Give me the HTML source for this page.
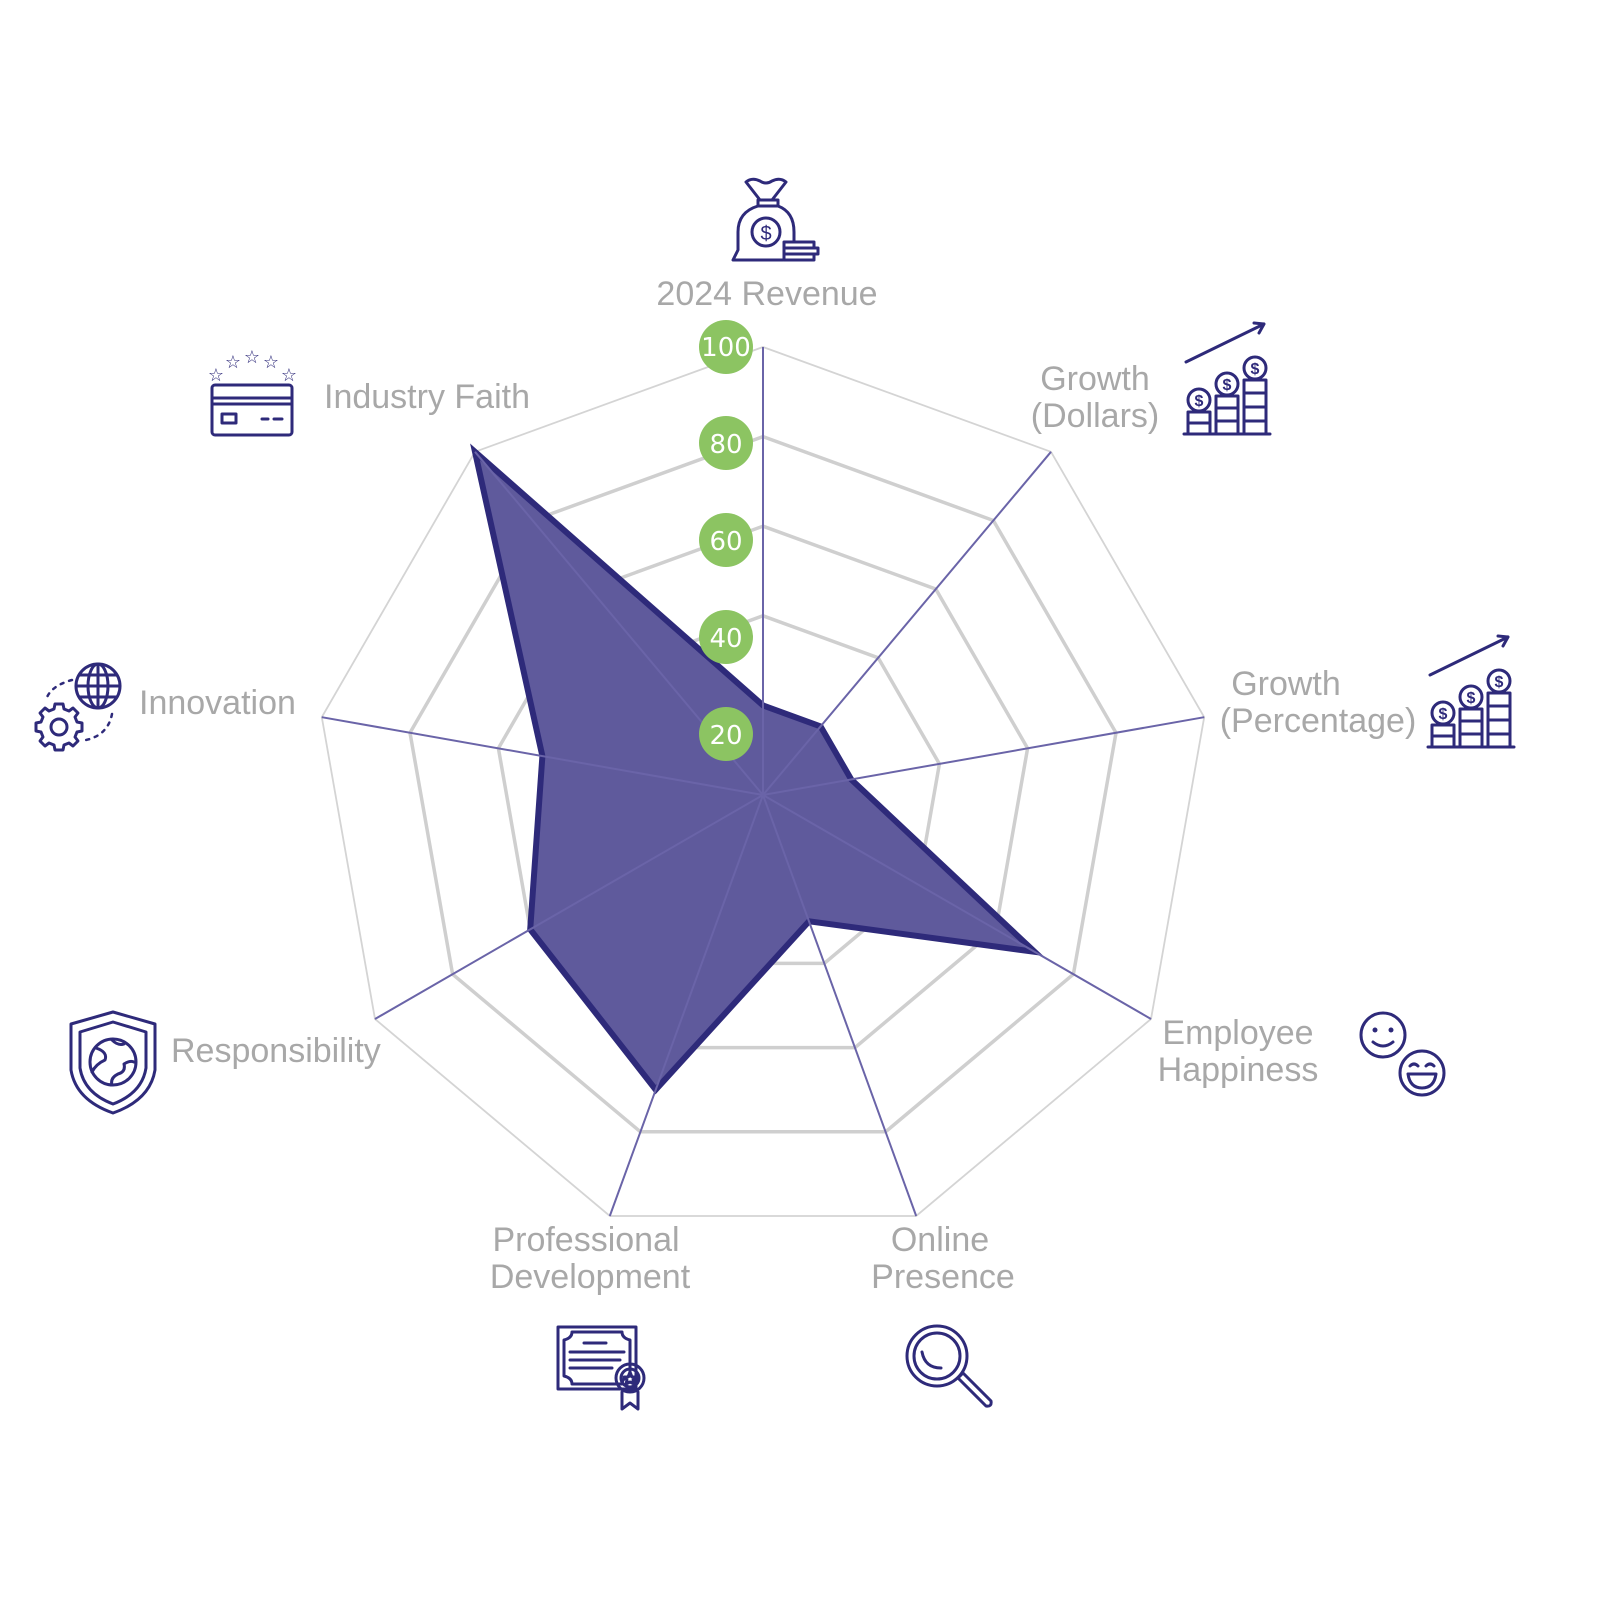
<!DOCTYPE html>
<html><head><meta charset="utf-8"><style>
html,body{margin:0;padding:0;background:#fff;overflow:hidden;}
svg{display:block;}
.lbl{font-family:"Liberation Sans",sans-serif;font-size:34px;fill:#a8a8a8;}
.ic{fill:none;stroke:#2e2a7a;stroke-width:3;stroke-linejoin:round;stroke-linecap:round;}
.num{font-family:"DejaVu Sans","Liberation Sans",sans-serif;font-size:26px;fill:#fff;text-anchor:middle;}
</style></head><body>
<svg width="1600" height="1600" viewBox="0 0 1600 1600" xmlns="http://www.w3.org/2000/svg">
<defs>
<g id="coins">
  <path class="ic" d="M0,-72 L78,-110 M78,-110 L68,-111 M78,-110 L73,-101"/>
  <line class="ic" x1="-2" y1="0" x2="84" y2="0"/>
  <rect class="ic" x="2" y="-22" width="22" height="22"/><line class="ic" x1="2" y1="-11" x2="24" y2="-11"/>
  <circle class="ic" cx="13" cy="-34" r="11"/>
  <rect class="ic" x="30" y="-38" width="22" height="38"/><line class="ic" x1="30" y1="-26" x2="52" y2="-26"/><line class="ic" x1="30" y1="-13" x2="52" y2="-13"/>
  <circle class="ic" cx="41" cy="-50" r="11"/>
  <rect class="ic" x="58" y="-54" width="22" height="54"/><line class="ic" x1="58" y1="-41" x2="80" y2="-41"/><line class="ic" x1="58" y1="-27" x2="80" y2="-27"/><line class="ic" x1="58" y1="-13" x2="80" y2="-13"/>
  <circle class="ic" cx="69" cy="-66" r="11"/>
  <text x="13" y="-28" font-family="Liberation Sans" font-size="16" font-weight="bold" fill="#2e2a7a" text-anchor="middle">$</text>
  <text x="41" y="-44" font-family="Liberation Sans" font-size="16" font-weight="bold" fill="#2e2a7a" text-anchor="middle">$</text>
  <text x="69" y="-60" font-family="Liberation Sans" font-size="16" font-weight="bold" fill="#2e2a7a" text-anchor="middle">$</text>
</g>
</defs>
<!-- rings -->
<g fill="none" stroke="#cfcfcf" stroke-width="3.5">
  <polygon points="763,436.6 993.4,520.5 1116,732.8 1073.4,974.2 885.6,1131.8 640.4,1131.8 452.6,974.2 410,732.8 532.6,520.5"/>
  <polygon points="763,526.2 935.8,589.1 1027.6,748.3 995.8,929.4 855,1047.6 671,1047.6 530.2,929.4 498.4,748.3 590.2,589.1"/>
  <polygon points="763,615.8 878.2,657.8 939.4,763.9 918.2,884.6 824.3,963.4 701.7,963.4 607.8,884.6 586.6,763.9 647.8,657.8"/>
  <polygon points="763,705.4 820.6,726.4 851.2,779.4 840.6,839.8 793.6,879.2 732.4,879.2 685.4,839.8 674.8,779.4 705.4,726.4"/>
</g>
<polygon points="763,347 1051,451.8 1204.2,717.2 1151,1019 916.2,1216 609.8,1216 375,1019 321.8,717.2 475,451.8" fill="none" stroke="#d4d4d4" stroke-width="1.8"/>
<!-- data -->
<polygon points="763,705.4 820.6,726.4 851.2,779.4 1034.6,951.8 809,921.3 655.7,1089.7 530.2,929.4 542.4,756.1 475,451.8" fill="#5f5a9c" stroke="#2e2a7a" stroke-width="6" stroke-linejoin="miter"/>
<!-- axes -->
<g stroke="#6a64a8" stroke-width="2">
  <line x1="763" y1="795" x2="763" y2="347"/>
  <line x1="763" y1="795" x2="1051" y2="451.8"/>
  <line x1="763" y1="795" x2="1204.2" y2="717.2"/>
  <line x1="763" y1="795" x2="1151" y2="1019"/>
  <line x1="763" y1="795" x2="916.2" y2="1216"/>
  <line x1="763" y1="795" x2="609.8" y2="1216"/>
  <line x1="763" y1="795" x2="375" y2="1019"/>
  <line x1="763" y1="795" x2="321.8" y2="717.2"/>
  <line x1="763" y1="795" x2="475" y2="451.8"/>
</g>
<!-- scale badges -->
<g fill="#8cc462">
  <circle cx="726" cy="347" r="27"/><circle cx="726" cy="443" r="27"/><circle cx="726" cy="540" r="27"/><circle cx="726" cy="637" r="27"/><circle cx="726" cy="734" r="27"/>
</g>
<text class="num" x="726" y="356" font-size="23">100</text>
<text class="num" x="726" y="453">80</text>
<text class="num" x="726" y="550">60</text>
<text class="num" x="726" y="647">40</text>
<text class="num" x="726" y="744">20</text>
<!-- labels -->
<text class="lbl" x="767" y="305" text-anchor="middle">2024 Revenue</text>
<text class="lbl" x="1095" y="390" text-anchor="middle">Growth</text>
<text class="lbl" x="1095" y="427" text-anchor="middle">(Dollars)</text>
<text class="lbl" x="1286" y="695" text-anchor="middle">Growth</text>
<text class="lbl" x="1318" y="732" text-anchor="middle">(Percentage)</text>
<text class="lbl" x="1238" y="1044" text-anchor="middle">Employee</text>
<text class="lbl" x="1238" y="1081" text-anchor="middle">Happiness</text>
<text class="lbl" x="940" y="1251" text-anchor="middle">Online</text>
<text class="lbl" x="943" y="1288" text-anchor="middle">Presence</text>
<text class="lbl" x="586" y="1251" text-anchor="middle">Professional</text>
<text class="lbl" x="590" y="1288" text-anchor="middle">Development</text>
<text class="lbl" x="171" y="1062">Responsibility</text>
<text class="lbl" x="139" y="714">Innovation</text>
<text class="lbl" x="324" y="408">Industry Faith</text>
<!-- money bag -->
<g>
  <path class="ic" d="M760,200 L746,182 Q752,177 760,181 Q766,185 772,181 Q780,177 786,182 L772,200 Z"/>
  <rect class="ic" x="758" y="200" width="20" height="6"/>
  <path class="ic" d="M758,206 Q738,212 738,232 L738,250 L733,260 L783,260 M778,206 Q794,212 794,232 L794,242"/>
  <circle class="ic" cx="766" cy="232" r="14"/>
  <text x="766" y="240" font-family="Liberation Sans" font-size="20" fill="#2e2a7a" text-anchor="middle">$</text>
  <rect class="ic" x="784" y="242" width="30" height="6"/><rect class="ic" x="784" y="248" width="34" height="6"/><rect class="ic" x="784" y="254" width="30" height="6"/>
</g>
<use href="#coins" transform="translate(1186 434)"/>
<use href="#coins" transform="translate(1430 747)"/>
<!-- smileys -->
<g>
  <circle class="ic" cx="1383" cy="1035" r="22"/>
  <circle cx="1375" cy="1030" r="2.5" fill="#2e2a7a"/><circle cx="1391" cy="1030" r="2.5" fill="#2e2a7a"/>
  <path class="ic" d="M1373,1042 Q1383,1050 1393,1042"/>
  <circle class="ic" cx="1422" cy="1073" r="22" fill="#fff"/>
  <path class="ic" d="M1410,1066 q4,-4 8,0 M1426,1066 q4,-4 8,0"/>
  <path class="ic" d="M1408,1074 L1436,1074 Q1434,1088 1422,1088 Q1410,1088 1408,1074 Z"/>
</g>
<!-- magnifier -->
<g>
  <circle class="ic" cx="937" cy="1356" r="30"/>
  <circle class="ic" cx="937" cy="1356" r="23"/>
  <path class="ic" d="M922,1352 Q925,1368 941,1368"/>
  <path class="ic" d="M958,1378 L963,1373 L991,1401 Q992,1407 986,1406 Z"/>
</g>
<!-- certificate -->
<g>
  <rect class="ic" x="558" y="1327" width="78" height="62"/>
  <path class="ic" d="M572,1332 L622,1332 Q622,1338 630,1340 L630,1376 Q622,1378 622,1384 L572,1384 Q572,1378 564,1376 L564,1340 Q572,1338 572,1332 Z"/>
  <line class="ic" x1="584" y1="1343" x2="606" y2="1343"/>
  <line class="ic" x1="570" y1="1352" x2="624" y2="1352"/>
  <line class="ic" x1="570" y1="1360" x2="620" y2="1360"/>
  <line class="ic" x1="570" y1="1368" x2="612" y2="1368"/>
  <path class="ic" d="M622,1392 L622,1409 L630,1403 L638,1409 L638,1392" fill="#fff"/>
  <circle class="ic" cx="630" cy="1378" r="14" fill="#fff"/>
  <circle class="ic" cx="630" cy="1378" r="9"/>
  <path class="ic" stroke-width="2" d="M630,1372 L632,1377 L636,1377 L633,1380 L634,1384 L630,1382 L626,1384 L627,1380 L624,1377 L628,1377 Z"/>
</g>
<!-- shield -->
<g>
  <path class="ic" d="M113,1012 L155,1024 L155,1070 Q150,1100 113,1113 Q76,1100 71,1070 L71,1024 Z"/>
  <path class="ic" d="M113,1022 L146,1032 L146,1068 Q142,1093 113,1104 Q84,1093 80,1068 L80,1032 Z"/>
  <circle class="ic" cx="113" cy="1062" r="23"/>
  <path class="ic" d="M96,1048 Q108,1052 105,1060 Q96,1064 92,1072 M112,1085 Q110,1078 118,1074 Q126,1072 124,1064 Q130,1060 134,1062 M112,1040 Q118,1046 124,1044"/>
</g>
<!-- innovation -->
<g>
  <circle class="ic" cx="98" cy="686" r="22"/>
  <ellipse class="ic" cx="98" cy="686" rx="10" ry="22"/>
  <line class="ic" x1="76" y1="686" x2="120" y2="686"/>
  <line class="ic" x1="80" y1="675" x2="116" y2="675"/>
  <line class="ic" x1="80" y1="697" x2="116" y2="697"/>
  <line class="ic" x1="98" y1="664" x2="98" y2="708"/>
  <path d="M72,680 Q50,686 46,700 M112,714 Q108,735 86,740" fill="none" stroke="#2e2a7a" stroke-width="2.5" stroke-dasharray="3 6" stroke-linecap="round"/>
  <path class="ic" stroke-width="2.5" d="M55,704 L63,704 L64,709 L69,711 L73,708 L78,713 L75,717 L77,722 L82,723 L82,731 L77,732 L75,737 L78,741 L73,746 L69,743 L64,745 L63,750 L55,750 L54,745 L49,743 L45,746 L40,741 L43,737 L41,732 L36,731 L36,723 L41,722 L43,717 L40,713 L45,708 L49,711 L54,709 Z"/>
  <circle class="ic" stroke-width="2.5" cx="59" cy="727" r="8"/>
</g>
<!-- industry faith -->
<g>
  <rect class="ic" x="212" y="385" width="80" height="50" rx="3"/>
  <line class="ic" x1="212" y1="398" x2="292" y2="398"/>
  <line class="ic" x1="212" y1="404" x2="292" y2="404"/>
  <rect class="ic" x="222" y="414" width="14" height="9"/>
  <line class="ic" x1="262" y1="419" x2="268" y2="419"/><line class="ic" x1="274" y1="419" x2="282" y2="419"/>
  <g font-family="DejaVu Sans" font-size="18" font-weight="bold" fill="#2e2a7a" text-anchor="middle">
    <text x="216" y="381">☆</text><text x="233" y="368">☆</text><text x="252" y="363">☆</text><text x="271" y="368">☆</text><text x="289" y="381">☆</text>
  </g>
</g>
</svg>
</body></html>
